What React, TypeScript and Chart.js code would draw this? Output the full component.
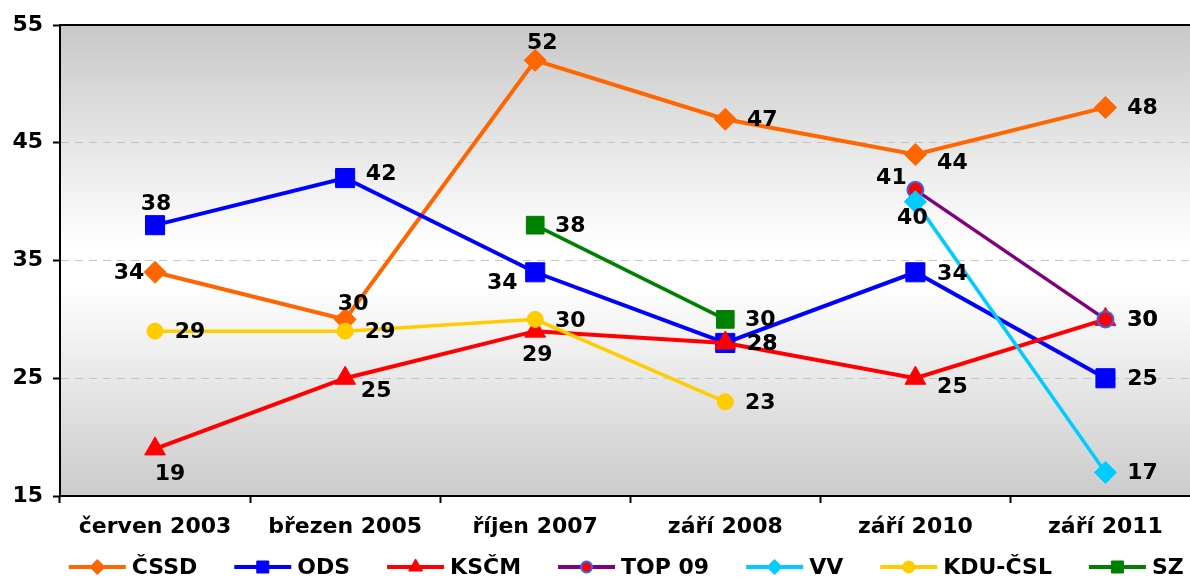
import React, { useEffect, useRef } from 'react';
import { Chart, registerables } from 'chart.js';
import { drawPoint } from 'chart.js/helpers';

Chart.register(...registerables);

const FONT = '"DejaVu Sans", Verdana, sans-serif';

// ---- data ----
const categories = ['červen 2003', 'březen 2005', 'říjen 2007', 'září 2008', 'září 2010', 'září 2011'];
const cssdValues = [34, 30, 52, 47, 44, 48];
const odsValues = [38, 42, 34, 28, 34, 25];
const kscmValues = [19, 25, 29, 28, 25, 30];
const top09Values = [null, null, null, null, 41, 30];
const vvValues = [null, null, null, null, 40, 17];
const kduValues = [29, 29, 30, 23, null, null];
const szValues = [null, null, 38, 30, null, null];
const seriesLabels = ['ČSSD', 'ODS', 'KSČM', 'TOP 09', 'VV', 'KDU-ČSL', 'SZ'];
const seriesValues = [cssdValues, odsValues, kscmValues, top09Values, vvValues, kduValues, szValues];
const yTickValues = [15, 25, 35, 45, 55];

// ---- styles ----
const seriesStyles = [
  { line: '#FF6600', fill: '#FF6600', border: '#FF6600', pointStyle: 'rectRot', radius: 11, borderWidth: 1, lineWidth: 4, legendRadius: 7.5 },
  { line: '#0000FF', fill: '#0000FF', border: '#0000FF', pointStyle: 'rect', radius: 13.5, borderWidth: 1, lineWidth: 4, legendRadius: 8.5 },
  { line: '#FF0000', fill: '#FF0000', border: '#FF0000', pointStyle: 'triangle', radius: 12, borderWidth: 1, lineWidth: 4, legendRadius: 8 },
  { line: '#800080', fill: '#FF0000', border: '#3366FF', pointStyle: 'circle', radius: 8, borderWidth: 2, lineWidth: 3.5, legendRadius: 5.5 },
  { line: '#00CCFF', fill: '#00CCFF', border: '#00CCFF', pointStyle: 'rectRot', radius: 11, borderWidth: 1, lineWidth: 3.5, legendRadius: 7.5 },
  { line: '#FFCC00', fill: '#FFCC00', border: '#FFCC00', pointStyle: 'circle', radius: 8, borderWidth: 1, lineWidth: 3.5, legendRadius: 6 },
  { line: '#008000', fill: '#008000', border: '#008000', pointStyle: 'rect', radius: 12.5, borderWidth: 1, lineWidth: 3.5, legendRadius: 8.5 },
];

// label offsets (dx, dy) from each point
const labelOffsets = [
  [[-26, 0], [8, -16], [7, -18], [37, 0], [37, 8], [37, 0]],
  [[1, -22], [36, -5], [-33, 10], [37, 0], [37, 1], [37, 0]],
  [[15, 24], [31, 12], [2, 23], [37, 0], [37, 8], [37, 0]],
  [null, null, null, null, [-24, -13], [37, 0]],
  [null, null, null, null, [-3, 16], [37, 0]],
  [[35, 0], [35, 0], [35, 1], [35, 0], null, null],
  [null, null, [35, 0], [35, 0], null, null],
];

const backgroundPlugin = {
  id: 'plotBackground',
  beforeDraw(chart: any) {
    const { ctx, chartArea } = chart;
    if (!chartArea) return;
    const g = ctx.createLinearGradient(0, chartArea.top, 0, chartArea.bottom);
    g.addColorStop(0, '#c8c8c8');
    g.addColorStop(0.47, '#ffffff');
    g.addColorStop(0.55, '#ffffff');
    g.addColorStop(1, '#cbcbcb');
    ctx.save();
    ctx.fillStyle = g;
    ctx.fillRect(chartArea.left, chartArea.top, chartArea.right - chartArea.left, chartArea.bottom - chartArea.top);
    ctx.restore();
  },
  afterDatasetsDraw(chart: any) {
    const { ctx, chartArea } = chart;
    ctx.save();
    ctx.strokeStyle = '#000';
    ctx.lineWidth = 2;
    ctx.beginPath();
    ctx.moveTo(chartArea.left - 1, chartArea.top);
    ctx.lineTo(chartArea.right, chartArea.top);
    ctx.stroke();
    ctx.restore();
  },
};

const dataLabelPlugin = {
  id: 'pointLabels',
  afterDatasetsDraw(chart: any) {
    const ctx = chart.ctx;
    ctx.save();
    ctx.font = `bold 22px ${FONT}`;
    ctx.fillStyle = '#000';
    ctx.textAlign = 'center';
    ctx.textBaseline = 'middle';
    chart.data.datasets.forEach((ds: any, i: number) => {
      const meta = chart.getDatasetMeta(i);
      meta.data.forEach((el: any, j: number) => {
        const v = ds.data[j];
        const off = labelOffsets[i][j];
        if (v === null || v === undefined || !off) return;
        ctx.fillText(String(v), el.x + off[0], el.y + off[1] + 1);
      });
    });
    ctx.restore();
  },
};

const legendPlugin = {
  id: 'lineLegend',
  afterDraw(chart: any) {
    const { ctx, chartArea } = chart;
    ctx.save();
    ctx.font = `bold 22px ${FONT}`;
    ctx.textBaseline = 'middle';
    ctx.textAlign = 'left';
    const lineLen = 57;
    const gapText = 6;
    const gapItem = 37;
    const widths = seriesLabels.map((t) => lineLen + gapText + ctx.measureText(t).width);
    const total = widths.reduce((a, b) => a + b, 0) + gapItem * (widths.length - 1);
    const center = (chartArea.left + chartArea.right) / 2 - 4;
    let x = center - total / 2;
    const y = chartArea.bottom + 71;
    seriesLabels.forEach((label, i) => {
      const st = seriesStyles[i];
      ctx.strokeStyle = st.line;
      ctx.lineWidth = 4;
      ctx.beginPath();
      ctx.moveTo(x, y);
      ctx.lineTo(x + lineLen, y);
      ctx.stroke();
      ctx.fillStyle = st.fill;
      ctx.strokeStyle = st.border;
      ctx.lineWidth = st.borderWidth;
      drawPoint(ctx, { pointStyle: st.pointStyle, radius: st.legendRadius, rotation: 0, borderWidth: st.borderWidth } as any, x + lineLen / 2, y);
      ctx.fillStyle = '#000';
      ctx.fillText(label, x + lineLen + gapText, y + 1);
      x += widths[i] + gapItem;
    });
    ctx.restore();
  },
};

export default function App() {
  const canvasRef = useRef<HTMLCanvasElement | null>(null);

  useEffect(() => {
    const canvas = canvasRef.current;
    if (!canvas) return;
    const tickFont = { family: FONT, size: 22, weight: 'bold' as const };
    const chart = new Chart(canvas, {
      type: 'line',
      data: {
        labels: categories,
        datasets: seriesLabels.map((label, i) => {
          const st = seriesStyles[i];
          return {
            label,
            data: seriesValues[i],
            borderColor: st.line,
            backgroundColor: st.fill,
            borderWidth: st.lineWidth,
            pointStyle: st.pointStyle as any,
            pointRadius: st.radius,
            pointHoverRadius: st.radius,
            pointBackgroundColor: st.fill,
            pointBorderColor: st.border,
            pointBorderWidth: st.borderWidth,
            tension: 0,
            spanGaps: false,
            fill: false,
            clip: 20,
            order: seriesLabels.length - i,
          };
        }),
      },
      options: {
        responsive: false,
        animation: false,
        devicePixelRatio: 1,
        layout: { padding: { top: 25, right: 10, left: 0, bottom: 37 } },
        plugins: {
          legend: { display: false },
          tooltip: { enabled: false },
        },
        scales: {
          x: {
            type: 'category',
            offset: true,
            grid: {
              offset: true,
              drawOnChartArea: false,
              drawTicks: true,
              tickLength: 7,
              tickColor: '#000',
              tickWidth: 2,
              tickBorderDash: [],
            },
            border: { color: '#000', width: 2 },
            ticks: { color: '#000', font: tickFont, padding: 11, maxRotation: 0, autoSkip: false },
            afterFit: (s: any) => {
              s.height = 45;
            },
          },
          y: {
            min: yTickValues[0],
            max: yTickValues[yTickValues.length - 1],
            afterBuildTicks: (s: any) => {
              s.ticks = yTickValues.map((v) => ({ value: v }));
            },
            ticks: { color: '#000', font: tickFont, padding: 10 },
            grid: {
              color: (c: any) =>
                c.tick && (c.tick.value === yTickValues[0] || c.tick.value === yTickValues[yTickValues.length - 1])
                  ? 'rgba(0,0,0,0)'
                  : '#c4c4c4',
              lineWidth: 1,
              tickLength: 7,
              tickColor: '#000',
              tickWidth: 2,
              tickBorderDash: [],
            },
            border: { color: '#000', width: 2, dash: [8, 6] },
            afterFit: (s: any) => {
              s.width = 60;
            },
          },
        },
      },
      plugins: [backgroundPlugin, dataLabelPlugin, legendPlugin],
    });
    return () => chart.destroy();
  }, []);

  return (
    <div style={{ position: 'fixed', left: 0, top: 0, width: 1190, height: 578, overflow: 'hidden', background: '#fff' }}>
      <canvas ref={canvasRef} width={1215} height={578} style={{ display: 'block' }} />
    </div>
  );
}
